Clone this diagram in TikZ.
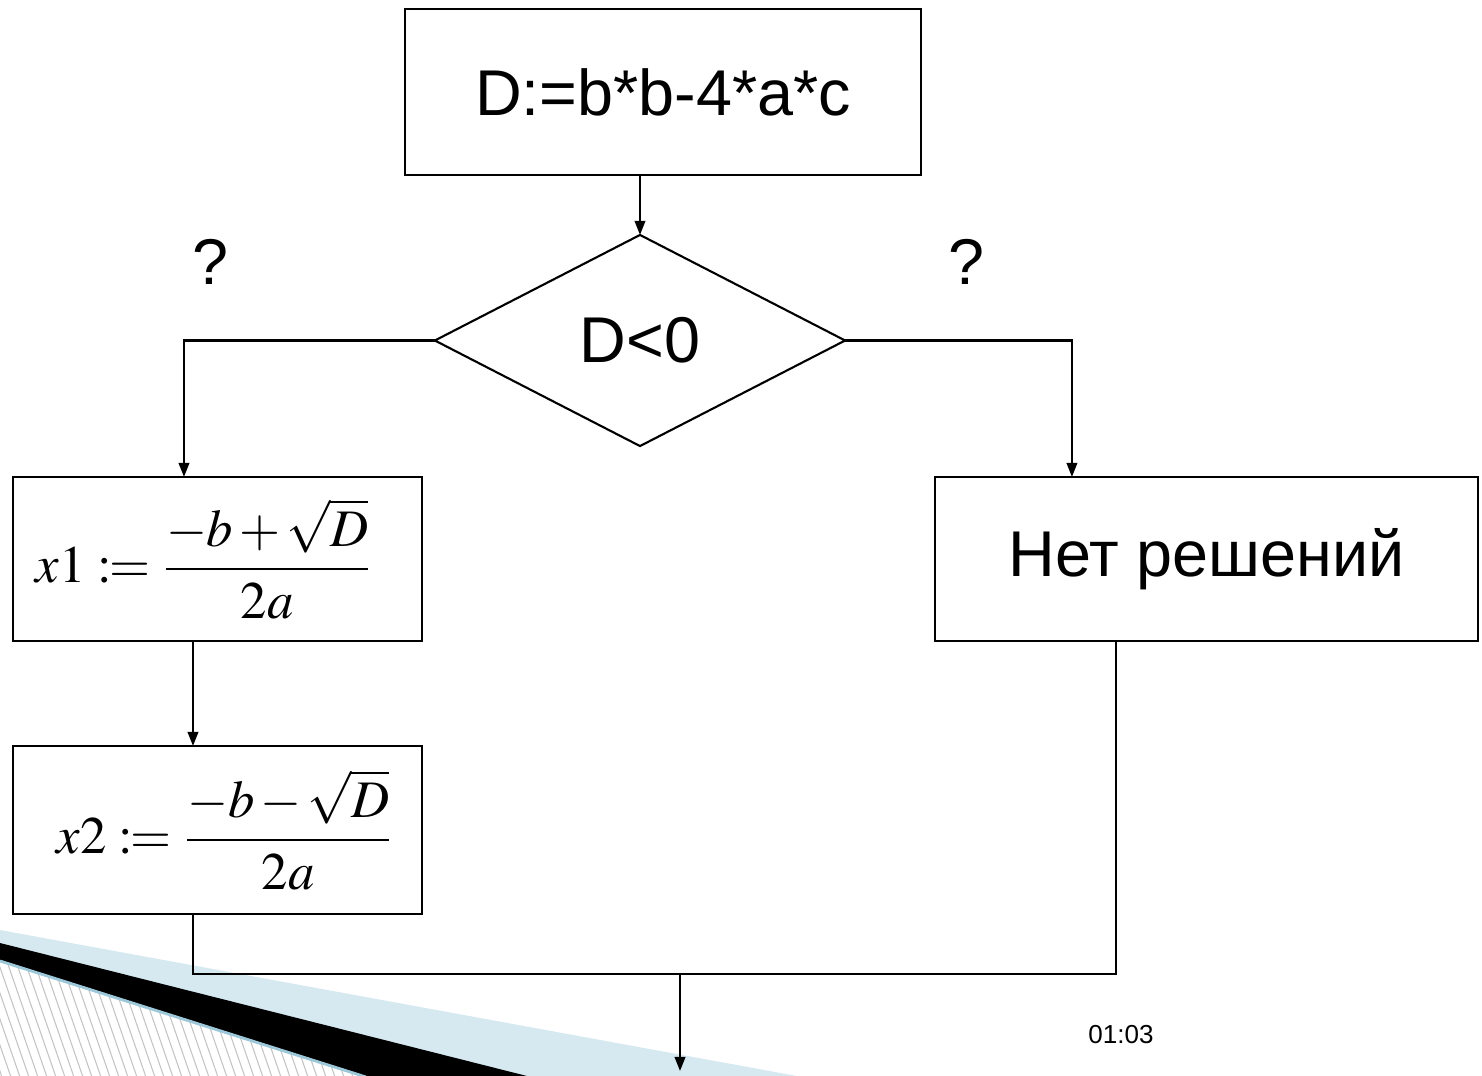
\documentclass[tikz,border=0pt]{standalone}
\usepackage{mathptmx}
\usepackage{fontspec}
\newfontfamily\arial{Liberation Sans}
\usetikzlibrary{shapes.geometric,arrows.meta}
\definecolor{paleblue}{HTML}{D6E9F1}
\definecolor{edgeblue}{HTML}{9CC8DA}
\definecolor{hatchgray}{HTML}{C4C4C4}
\newcommand{\tight}{\thickmuskip=4mu \medmuskip=2mu \displaystyle}
\newcommand{\assign}{\mathrel{{:}\mkern-1mu{=}}}

\begin{document}
\begin{tikzpicture}[x=0.01cm, y=-0.01cm, line width=0.6pt]
    \tikzstyle{block}=[rectangle, draw=black, fill=white, inner sep=0pt, outer sep=0pt, font=\arial\fontsize{18.4}{22}\selectfont]
    \tikzstyle{formula}=[block, font=\fontsize{15}{18}\selectfont]
    \tikzstyle{cond}=[diamond, draw=black, fill=white, inner sep=0pt, outer sep=0pt, minimum width=4.1cm, minimum height=2.11cm, font=\arial\fontsize{18.4}{22}\selectfont]
    \tikzstyle{label}=[font=\arial\fontsize{18.4}{22}\selectfont]
    \tikzstyle{arr}=[-{Triangle[length=4pt,width=3pt]}]

    \useasboundingbox (0,0) rectangle (1482,1076);

    % slide corner
    \fill[paleblue] (0,930) -- (797,1076) -- (0,1076) -- cycle;
    \fill[black] (0,943) -- (527,1076) -- (366,1076) -- (0,960) -- cycle;
    \begin{scope}
        \clip (0,961) -- (366,1077) -- (0,1077) -- cycle;
        \fill[white] (0,955) rectangle (370,1080);
        \foreach \x in {-60,-51,...,370}
            \draw[hatchgray, line width=0.3pt] (\x,950) -- ++(45,130);
    \end{scope}
    \draw[edgeblue, line width=0.8pt] (0,961) -- (366,1077);

    % blocks
    \node[block, minimum width=5.16cm, minimum height=1.66cm] (calc) at (663,92) {D:=b*b-4*a*c};
    \node[cond] (test) at (640,340.5) {D<0};
    \node[label] (askl) at (210,262) {?};
    \node[label] (askr) at (966,262) {?};
    \node[formula, minimum width=4.09cm, minimum height=1.64cm] (one) at (217.5,559)
        {$\tight x1 \assign \frac{-b+\sqrt{D}}{2a}$\hspace*{0.27cm}};
    \node[formula, minimum width=4.09cm, minimum height=1.68cm] (two) at (217.5,830)
        {\hspace*{0.15cm}$\tight x2 \assign \frac{-b-\sqrt{D}}{2a}$};
    \node[block, minimum width=5.43cm, minimum height=1.64cm] (none) at (1206.5,559) {Нет решений};
    \node[font=\arial\fontsize{7.4}{9}\selectfont] (time) at (1121,1035) {01:03};

    \coordinate (join) at (680,974);
    \coordinate (exit) at (680,1071);

    % connectors
    \draw[arr] (test.north |- calc.south) -- (test.north);
    \draw[arr] (test.west) -| ([xshift=-0.335cm]one.north);
    \draw[arr] (test.east) -| ([xshift=-1.345cm]none.north);
    \draw[arr] ([xshift=-0.245cm]one.south) -- ([xshift=-0.245cm]two.north);
    \draw ([xshift=-0.245cm]two.south) |- (join) -| ([xshift=-0.905cm]none.south);
    \draw[arr] (join) -- (exit);
\end{tikzpicture}
\end{document}
